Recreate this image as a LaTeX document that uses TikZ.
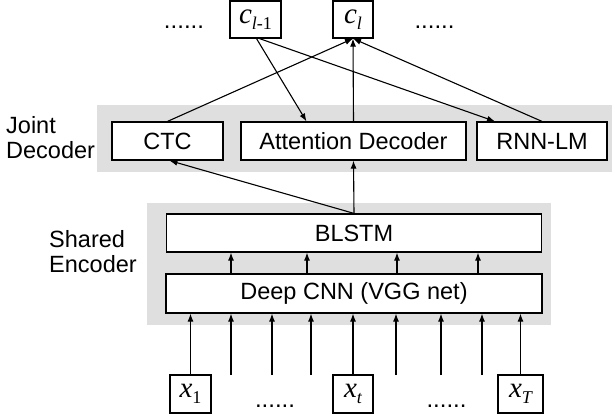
\documentclass[tikz,border=0pt]{standalone}
\usepackage{fontspec}
\setmainfont{Liberation Sans}
\newfontfamily\tms{Liberation Serif}
\usetikzlibrary{arrows.meta}
\newcommand{\mysym}[2]{{\tms\fontsize{29}{29}\selectfont\itshape #1}\raisebox{-6pt}{\tms\fontsize{18}{18}\selectfont #2}}
\tikzset{
  box/.style={draw, fill=white, line width=1.2pt, inner sep=0pt, font=\fontsize{23.5}{25}\selectfont},
  panel/.style={fill=gray!25, draw=none, inner sep=0pt},
  arr/.style={-{Latex[length=8pt,width=6pt]}, line width=1.1pt},
  lbl/.style={align=left, inner sep=0pt, anchor=west, font=\fontsize{23.5}{25}\selectfont},
  dots/.style={inner sep=0pt, anchor=base, font=\fontsize{24}{24}\selectfont}
}
\begin{document}
\begin{tikzpicture}[x=1pt,y=-1pt]
\useasboundingbox (0,0) rectangle (615,419);
% panels
\node[panel, minimum width=515, minimum height=67] (jd) at (354.5,138.5) {};
\node[panel, minimum width=404, minimum height=122] (se) at (349,264) {};
% labels
\node[lbl] (jdl) at (6,137.5) {Joint\\Decoder};
\node[lbl] (sel) at (49,251.5) {Shared\\Encoder};
% outputs
\node[box, minimum width=51, minimum height=37] (cl1) at (255.5,19.5) {\mysym{c}{\itshape l\upshape -1}};
\node[box, minimum width=40, minimum height=37] (cl) at (353,19.5) {\mysym{c}{\itshape l}};
\node[dots] (d1) at (184,29) {......};
\node[dots] (d2) at (434.5,29) {......};
% decoder boxes
\node[box, minimum width=111, minimum height=38] (ctc) at (167.5,141) {CTC};
\node[box, minimum width=225, minimum height=38] (att) at (353.5,141) {Attention Decoder};
\node[box, minimum width=130, minimum height=38] (rnn) at (542,141) {RNN-LM};
% encoder boxes
\node[box, minimum width=375, minimum height=38] (blstm) at (354,233) {BLSTM};
\node[box, minimum width=376, minimum height=39] (cnn) at (354,293.5) {Deep CNN (VGG net)};
% inputs
\node[box, minimum width=41, minimum height=38] (x1) at (190.5,394) {\mysym{x}{1}};
\node[box, minimum width=40, minimum height=38] (xt) at (353,394) {\mysym{x}{\itshape t}};
\node[box, minimum width=45, minimum height=38] (xT) at (520.5,394) {\mysym{x}{\itshape T}};
\node[dots] (d3) at (275,407) {......};
\node[dots] (d4) at (446.5,407) {......};
% input arrows
\draw[arr] (x1) -- (x1 |- cnn.south);
\draw[arr] (xt) -- (xt |- cnn.south);
\draw[arr] (xT) -- (xT |- cnn.south);
\foreach \x/\n in {231/i2, 272/i3, 311/i4, 396/i6, 441/i7, 482/i8}{
  \coordinate (\n) at (\x,375);
  \draw[arr] (\n) -- (\n |- cnn.south);
}
% cnn to blstm
\foreach \d in {-123,-47,43,124}{
  \draw[arr] ([xshift=\d pt]cnn.north) -- ([xshift=\d pt]blstm.south);
}
% blstm to decoders
\draw[arr] (blstm.north) -- (att.south);
\draw[arr] (blstm.north) -- ([xshift=2pt]ctc.south);
% decoders to c_l
\draw[arr] (ctc.north) -- (cl.south);
\draw[arr] (att.north) -- (cl.south);
\draw[arr] (rnn.north) -- (cl.south);
% c_{l-1} to decoders
\draw[arr] ([xshift=1pt]cl1.south) -- ([xshift=-47pt]att.north);
\draw[arr] ([xshift=4pt]cl1.south) -- ([xshift=-47pt]rnn.north);
\end{tikzpicture}
\end{document}
